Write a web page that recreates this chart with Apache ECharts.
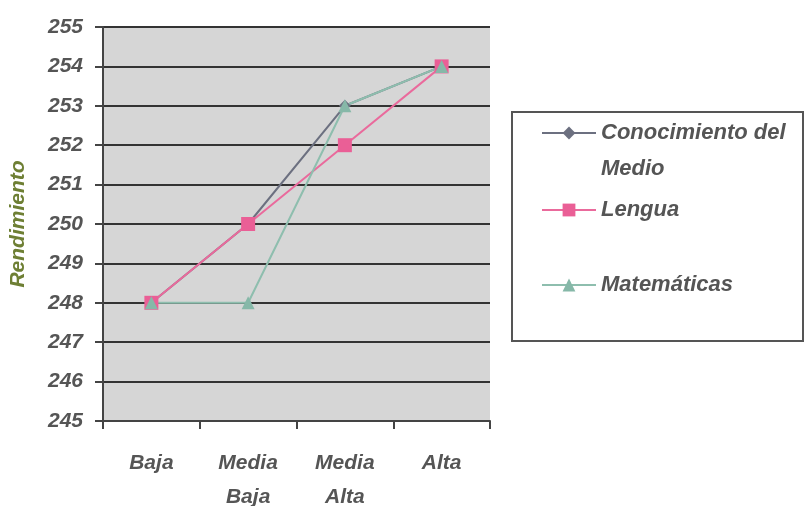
<!DOCTYPE html>
<html>
<head>
<meta charset="utf-8">
<script src="https://cdn.jsdelivr.net/npm/echarts@6/dist/echarts.min.js"></script>
<style>html,body{margin:0;padding:0;background:#fff}#c{width:807px;height:506px}</style>
</head>
<body>
<div id="c"></div>
<script>
const categories = ['Baja', 'Media\nBaja', 'Media\nAlta', 'Alta'];
const yTicks = [245, 246, 247, 248, 249, 250, 251, 252, 253, 254, 255];
const conocimiento = [248, 250, 253, 254];
const lengua = [248, 250, 252, 254];
const matematicas = [248, 248, 253, 254];
const seriesNames = ['Conocimiento del Medio', 'Lengua', 'Matemáticas'];

const FONT = '"Liberation Sans", Arial, sans-serif';
const chart = echarts.init(document.getElementById('c'), null, {renderer: 'canvas'});
const legendText = {fontFamily: FONT, fontStyle: 'italic', fontWeight: 'bold', fontSize: 22, color: '#555', lineHeight: 36};
chart.setOption({
  animation: false,
  backgroundColor: '#fff',
  grid: {left: 103, right: 317, top: 27, bottom: 85, show: true, backgroundColor: '#d6d6d6', borderWidth: 0,
         containLabel: false, outerBoundsMode: 'none'},
  graphic: [{
    type: 'rect', left: 511, top: 111, z: -1,
    shape: {width: 291, height: 229},
    style: {fill: '#fff', stroke: '#555', lineWidth: 2}
  }],
  legend: [
    {data: [seriesNames[0]], left: 541, top: 79, padding: 0, itemWidth: 54, itemHeight: 16, itemGap: 0,
     formatter: () => '\nConocimiento del\nMedio',
     textStyle: legendText},
    {data: [seriesNames[1]], left: 541, top: 192, padding: 0, itemWidth: 54, itemHeight: 16, textStyle: legendText},
    {data: [seriesNames[2]], left: 541, top: 267, padding: 0, itemWidth: 54, itemHeight: 16, textStyle: legendText}
  ],
  xAxis: {
    type: 'category', data: categories, boundaryGap: true,
    axisLine: {lineStyle: {color: '#444', width: 2}},
    axisTick: {show: true, inside: false, length: 8, lineStyle: {color: '#444', width: 2}},
    axisLabel: {fontFamily: FONT, fontStyle: 'italic', fontWeight: 'bold', fontSize: 21, color: '#555', lineHeight: 34, margin: 25}
  },
  yAxis: {
    type: 'value', min: yTicks[0], max: yTicks[yTicks.length - 1], interval: 1,
    name: 'Rendimiento', nameLocation: 'middle', nameGap: 74, nameRotate: 90,
    nameTextStyle: {fontFamily: FONT, fontStyle: 'italic', fontWeight: 'bold', fontSize: 21, color: '#6e7f34'},
    axisLine: {show: true, lineStyle: {color: '#444', width: 2}},
    axisTick: {show: true, inside: false, length: 8, lineStyle: {color: '#444', width: 2}},
    axisLabel: {fontFamily: FONT, fontStyle: 'italic', fontWeight: 'bold', fontSize: 21, color: '#555', margin: 20},
    splitLine: {show: true, lineStyle: {color: '#333', width: 2}}
  },
  series: [
    {name: seriesNames[0], type: 'line', data: conocimiento, symbol: 'diamond', symbolSize: 12,
     color: '#6c7080', lineStyle: {width: 2, color: '#6c7080'}, itemStyle: {color: '#6c7080'}},
    {name: seriesNames[1], type: 'line', data: lengua, symbol: 'rect', symbolSize: 14,
     color: '#ea6a9c', lineStyle: {width: 2, color: '#ea6a9c'}, itemStyle: {color: '#ea5f96'}},
    {name: seriesNames[2], type: 'line', data: matematicas, symbol: 'triangle', symbolSize: 13,
     color: '#8ebeae', lineStyle: {width: 2, color: '#8ebeae'}, itemStyle: {color: '#86b8a8'}}
  ]
});
</script>
</body>
</html>
